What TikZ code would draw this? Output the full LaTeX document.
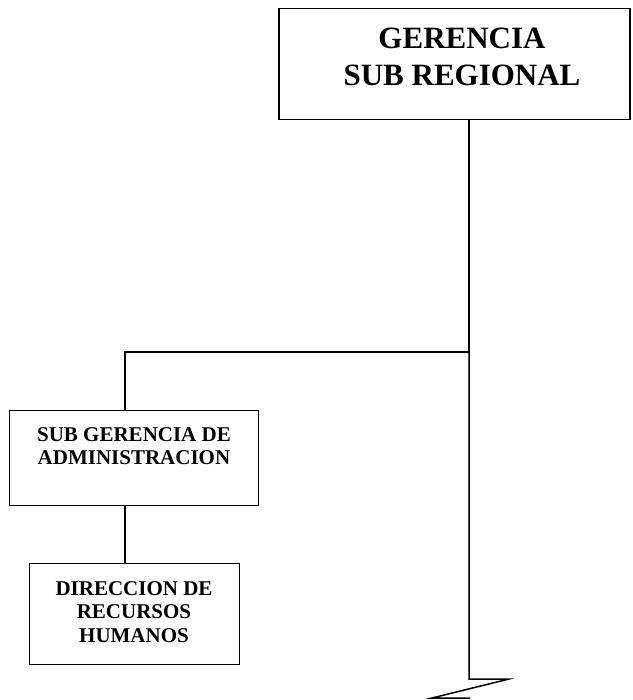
\documentclass[tikz,border=0pt]{standalone}
\usepackage{fontspec}
\setmainfont{Liberation Serif}
\begin{document}
\begin{tikzpicture}[x=1pt,y=-1pt,
  unit/.style={draw=black,line width=1.8pt,minimum width=#1,inner sep=0pt,outer sep=0pt},
  label/.style={align=center,font=\bfseries,inner sep=0pt},
  link/.style={line width=1.5pt,line cap=rect}]
\useasboundingbox (0,0) rectangle (632,700);
% organisational units
\node[unit=351pt,minimum height=111pt] (gsr) at (454.5,64) {};
\node[unit=249pt,minimum height=95pt] (sga) at (134,458) {};
\node[unit=210pt,minimum height=101pt] (drh) at (134.5,614) {};
% unit titles
\node[label,font=\bfseries\fontsize{31}{37}\selectfont] (tgsr) at (462,57) {GERENCIA\\SUB REGIONAL};
\node[label,font=\bfseries\fontsize{21}{23}\selectfont] (tsga) at (134,446) {SUB GERENCIA DE\\ADMINISTRACION};
\node[label,font=\bfseries\fontsize{21}{23.5}\selectfont] (tdrh) at (134,612) {DIRECCION DE\\RECURSOS\\HUMANOS};
% connectors
\coordinate (j) at (469,352);
\coordinate (k) at (125,352);
\coordinate (e1) at (469,679);
\coordinate (z1) at (509,679);
\coordinate (z2) at (432,698);
\coordinate (z3) at (470,698);
\draw[link] (gsr.south -| j) -- (j) -- (k) -- (k |- sga.north);
\draw[link] (sga.south -| k) -- (drh.north -| k);
\draw[link,line cap=butt,line join=miter] (j) -- (e1) -- (z1) -- (z2) -- (z3);
\end{tikzpicture}
\end{document}
